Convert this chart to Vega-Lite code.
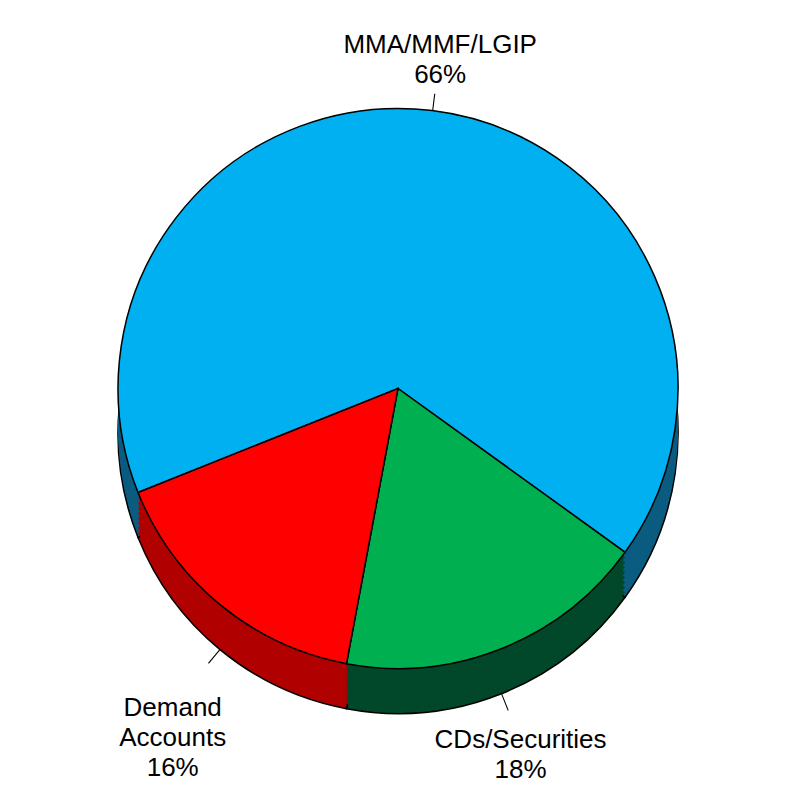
{
  "$schema": "https://vega.github.io/schema/vega-lite/v6.json",
  "width": 796,
  "height": 788,
  "autosize": {"type": "fit", "contains": "padding"},
  "padding": {"top": 35, "bottom": 45, "left": 0, "right": 0},
  "background": "white",
  "config": {"view": {"stroke": null}},
  "data": {
    "values": [
      {"category": "MMA/MMF/LGIP", "value": 66, "order": 1, "label": "MMA/MMF/LGIP\n66%"},
      {"category": "CDs/Securities", "value": 18, "order": 2, "label": "CDs/Securities\n18%"},
      {"category": "Demand Accounts", "value": 16, "order": 3, "label": "Demand\nAccounts\n16%"}
    ]
  },
  "transform": [
    {"stack": "value", "groupby": [], "sort": [{"field": "order", "order": "ascending"}], "as": ["v0", "v1"]},
    {"calculate": "(datum.v0 + datum.v1) / 2", "as": "mid"},
    {"calculate": "datum.mid + 0.06", "as": "mid2"}
  ],
  "layer": [
    {
      "mark": {"type": "arc", "radius": 280, "yOffset": 45, "stroke": "black", "strokeWidth": 1.5},
      "encoding": {
        "theta": {"field": "v0", "type": "quantitative", "stack": null, "scale": {"type": "linear", "domain": [0, 100], "range": [4.332, 10.615], "zero": false}},
        "theta2": {"field": "v1"},
        "color": {"field": "category", "type": "nominal", "legend": null, "scale": {"domain": ["MMA/MMF/LGIP", "CDs/Securities", "Demand Accounts"], "range": ["#0a5c80", "#01482a", "#b00000"]}}
      }
    },
    {
      "mark": {"type": "arc", "radius": 280, "yOffset": 40},
      "encoding": {
        "theta": {"field": "v0", "type": "quantitative", "stack": null, "scale": {"type": "linear", "domain": [0, 100], "range": [4.332, 10.615], "zero": false}},
        "theta2": {"field": "v1"},
        "color": {"field": "category", "type": "nominal", "legend": null, "scale": {"domain": ["MMA/MMF/LGIP", "CDs/Securities", "Demand Accounts"], "range": ["#0a5c80", "#01482a", "#b00000"]}}
      }
    },
    {
      "mark": {"type": "arc", "radius": 280, "yOffset": 35},
      "encoding": {
        "theta": {"field": "v0", "type": "quantitative", "stack": null, "scale": {"type": "linear", "domain": [0, 100], "range": [4.332, 10.615], "zero": false}},
        "theta2": {"field": "v1"},
        "color": {"field": "category", "type": "nominal", "legend": null, "scale": {"domain": ["MMA/MMF/LGIP", "CDs/Securities", "Demand Accounts"], "range": ["#0a5c80", "#01482a", "#b00000"]}}
      }
    },
    {
      "mark": {"type": "arc", "radius": 280, "yOffset": 30},
      "encoding": {
        "theta": {"field": "v0", "type": "quantitative", "stack": null, "scale": {"type": "linear", "domain": [0, 100], "range": [4.332, 10.615], "zero": false}},
        "theta2": {"field": "v1"},
        "color": {"field": "category", "type": "nominal", "legend": null, "scale": {"domain": ["MMA/MMF/LGIP", "CDs/Securities", "Demand Accounts"], "range": ["#0a5c80", "#01482a", "#b00000"]}}
      }
    },
    {
      "mark": {"type": "arc", "radius": 280, "yOffset": 25},
      "encoding": {
        "theta": {"field": "v0", "type": "quantitative", "stack": null, "scale": {"type": "linear", "domain": [0, 100], "range": [4.332, 10.615], "zero": false}},
        "theta2": {"field": "v1"},
        "color": {"field": "category", "type": "nominal", "legend": null, "scale": {"domain": ["MMA/MMF/LGIP", "CDs/Securities", "Demand Accounts"], "range": ["#0a5c80", "#01482a", "#b00000"]}}
      }
    },
    {
      "mark": {"type": "arc", "radius": 280, "yOffset": 20},
      "encoding": {
        "theta": {"field": "v0", "type": "quantitative", "stack": null, "scale": {"type": "linear", "domain": [0, 100], "range": [4.332, 10.615], "zero": false}},
        "theta2": {"field": "v1"},
        "color": {"field": "category", "type": "nominal", "legend": null, "scale": {"domain": ["MMA/MMF/LGIP", "CDs/Securities", "Demand Accounts"], "range": ["#0a5c80", "#01482a", "#b00000"]}}
      }
    },
    {
      "mark": {"type": "arc", "radius": 280, "yOffset": 15},
      "encoding": {
        "theta": {"field": "v0", "type": "quantitative", "stack": null, "scale": {"type": "linear", "domain": [0, 100], "range": [4.332, 10.615], "zero": false}},
        "theta2": {"field": "v1"},
        "color": {"field": "category", "type": "nominal", "legend": null, "scale": {"domain": ["MMA/MMF/LGIP", "CDs/Securities", "Demand Accounts"], "range": ["#0a5c80", "#01482a", "#b00000"]}}
      }
    },
    {
      "mark": {"type": "arc", "radius": 280, "yOffset": 10},
      "encoding": {
        "theta": {"field": "v0", "type": "quantitative", "stack": null, "scale": {"type": "linear", "domain": [0, 100], "range": [4.332, 10.615], "zero": false}},
        "theta2": {"field": "v1"},
        "color": {"field": "category", "type": "nominal", "legend": null, "scale": {"domain": ["MMA/MMF/LGIP", "CDs/Securities", "Demand Accounts"], "range": ["#0a5c80", "#01482a", "#b00000"]}}
      }
    },
    {
      "mark": {"type": "arc", "radius": 280, "yOffset": 5},
      "encoding": {
        "theta": {"field": "v0", "type": "quantitative", "stack": null, "scale": {"type": "linear", "domain": [0, 100], "range": [4.332, 10.615], "zero": false}},
        "theta2": {"field": "v1"},
        "color": {"field": "category", "type": "nominal", "legend": null, "scale": {"domain": ["MMA/MMF/LGIP", "CDs/Securities", "Demand Accounts"], "range": ["#0a5c80", "#01482a", "#b00000"]}}
      }
    },
    {
      "mark": {"type": "arc", "radius": 280, "stroke": "black", "strokeWidth": 1.5},
      "encoding": {
        "theta": {"field": "v0", "type": "quantitative", "stack": null, "scale": {"type": "linear", "domain": [0, 100], "range": [4.332, 10.615], "zero": false}},
        "theta2": {"field": "v1"},
        "color": {"field": "category", "type": "nominal", "legend": null, "scale": {"domain": ["MMA/MMF/LGIP", "CDs/Securities", "Demand Accounts"], "range": ["#00B0F0", "#00B050", "#FF0000"]}}
      }
    },
    {
      "transform": [{"filter": "datum.order == 1"}],
      "mark": {"type": "arc", "radius": 297, "radius2": 280, "color": "black"},
      "encoding": {
        "theta": {"field": "mid", "type": "quantitative", "stack": null, "scale": {"type": "linear", "domain": [0, 100], "range": [4.332, 10.615], "zero": false}},
        "theta2": {"field": "mid2"}
      }
    },
    {
      "transform": [{"filter": "datum.order != 1"}],
      "mark": {"type": "arc", "radius": 298, "radius2": 280, "yOffset": 45, "color": "black"},
      "encoding": {
        "theta": {"field": "mid", "type": "quantitative", "stack": null, "scale": {"type": "linear", "domain": [0, 100], "range": [4.332, 10.615], "zero": false}},
        "theta2": {"field": "mid2"}
      }
    },
    {
      "transform": [{"filter": "datum.order == 1"}],
      "mark": {"type": "text", "radius": 346, "font": "Liberation Sans", "fontSize": 26, "lineHeight": 30, "lineBreak": "\n", "align": "center", "baseline": "middle", "color": "black"},
      "encoding": {
        "theta": {"field": "mid", "type": "quantitative", "stack": null, "scale": {"type": "linear", "domain": [0, 100], "range": [4.332, 10.615], "zero": false}},
        "text": {"field": "label"}
      }
    },
    {
      "transform": [{"filter": "datum.order == 2"}],
      "mark": {"type": "text", "radius": 330, "yOffset": 45, "font": "Liberation Sans", "fontSize": 26, "lineHeight": 30, "lineBreak": "\n", "align": "center", "baseline": "middle", "color": "black"},
      "encoding": {
        "theta": {"field": "mid", "type": "quantitative", "stack": null, "scale": {"type": "linear", "domain": [0, 100], "range": [4.332, 10.615], "zero": false}},
        "text": {"field": "label"}
      }
    },
    {
      "transform": [{"filter": "datum.order == 3"}],
      "mark": {"type": "text", "radius": 355, "yOffset": 45, "font": "Liberation Sans", "fontSize": 26, "lineHeight": 30, "lineBreak": "\n", "align": "center", "baseline": "middle", "color": "black"},
      "encoding": {
        "theta": {"field": "mid", "type": "quantitative", "stack": null, "scale": {"type": "linear", "domain": [0, 100], "range": [4.332, 10.615], "zero": false}},
        "text": {"field": "label"}
      }
    }
  ],
  "resolve": {"scale": {"color": "independent"}}
}
